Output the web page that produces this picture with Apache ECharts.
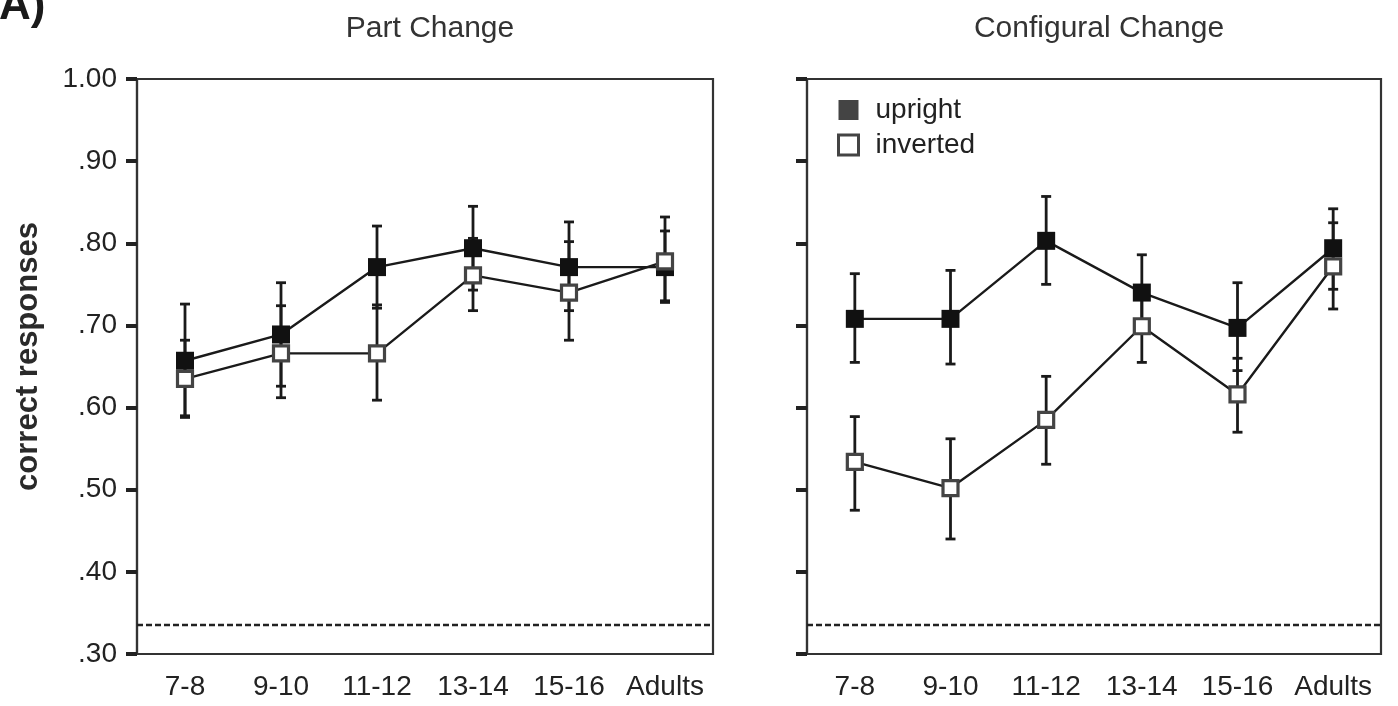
<!DOCTYPE html>
<html><head><meta charset="utf-8">
<script src="https://cdn.jsdelivr.net/npm/echarts@6/dist/echarts.min.js"></script>
<style>html,body{margin:0;padding:0;background:#fff}#c{width:1398px;height:706px}</style>
</head><body><div id="c"></div>
<script>
const categories = ['7-8','9-10','11-12','13-14','15-16','Adults'];
const panelTitles = ['Part Change','Configural Change'];
const legendNames = ['upright','inverted'];
const yAxisName = 'correct responses';
const panelLabel = 'A)';

const partUpright      = [0.657,0.689,0.771,0.794,0.771,0.771];
const partUprightLow   = [0.590,0.626,0.721,0.743,0.718,0.730];
const partUprightHigh  = [0.726,0.752,0.821,0.845,0.826,0.815];
const partInverted     = [0.635,0.666,0.666,0.761,0.740,0.778];
const partInvertedLow  = [0.588,0.612,0.609,0.718,0.682,0.728];
const partInvertedHigh = [0.682,0.724,0.725,0.806,0.802,0.832];

const configUpright      = [0.708,0.708,0.803,0.740,0.697,0.794];
const configUprightLow   = [0.655,0.653,0.750,0.694,0.645,0.744];
const configUprightHigh  = [0.763,0.767,0.857,0.786,0.752,0.842];
const configInverted     = [0.534,0.502,0.585,0.699,0.616,0.772];
const configInvertedLow  = [0.475,0.440,0.531,0.655,0.570,0.720];
const configInvertedHigh = [0.589,0.562,0.638,0.743,0.660,0.825];

const chanceLevel = 0.336;
const yMin = 0.3, yMax = 1.0, yStep = 0.1;

const FONT = '"Liberation Sans", Arial, sans-serif';
const INK = '#1a1a1a';

function errorBars(name, low, high, idx) {
  return {
    type: 'custom', name: name, xAxisIndex: idx, yAxisIndex: idx, z: 2,
    silent: true, animation: false,
    data: categories.map((c, i) => [i, low[i], high[i]]),
    encode: { x: 0, y: [1, 2] },
    renderItem: function (params, api) {
      const x = api.value(0);
      const lo = api.coord([x, api.value(1)]);
      const hi = api.coord([x, api.value(2)]);
      const w = 5;
      const st = { stroke: INK, lineWidth: 2.8, fill: null };
      return { type: 'group', children: [
        { type: 'line', shape: { x1: lo[0], y1: lo[1], x2: hi[0], y2: hi[1] }, style: st },
        { type: 'line', shape: { x1: lo[0] - w, y1: lo[1], x2: lo[0] + w, y2: lo[1] }, style: st },
        { type: 'line', shape: { x1: hi[0] - w, y1: hi[1], x2: hi[0] + w, y2: hi[1] }, style: st }
      ]};
    }
  };
}

function lineSeries(name, data, idx, filled, withChance) {
  const s = {
    type: 'line', name: name, xAxisIndex: idx, yAxisIndex: idx,
    data: data, symbol: 'rect', symbolSize: filled ? 18 : 15,
    z: filled ? 3 : 4, animation: false,
    lineStyle: { color: INK, width: 2.4 },
    itemStyle: filled ? { color: '#111', borderColor: '#111', borderWidth: 0 }
                      : { color: '#fff', borderColor: '#444', borderWidth: 3.2 },
    emphasis: { disabled: true }
  };
  if (withChance) {
    s.markLine = {
      silent: true, symbol: 'none', animation: false, precision: 3,
      label: { show: false },
      lineStyle: { type: [6, 3], color: '#222', width: 2.4 },
      data: [{ yAxis: chanceLevel }]
    };
  }
  return s;
}

function makeX(idx) {
  return {
    type: 'category', gridIndex: idx, data: categories, boundaryGap: true,
    axisLine: { lineStyle: { color: '#333', width: 2.2 } },
    axisTick: { alignWithLabel: true, length: 10, lineStyle: { color: '#222', width: 4 } },
    axisLabel: { interval: 0, fontFamily: FONT, fontSize: 28, color: '#222', margin: 19 },
    splitLine: { show: false }
  };
}
function makeY(idx, showLabels) {
  const y = {
    type: 'value', gridIndex: idx, min: yMin, max: yMax, interval: yStep,
    axisLine: { show: true, lineStyle: { color: '#333', width: 2.2 } },
    axisTick: { show: true, length: 11, lineStyle: { color: '#222', width: 4 } },
    axisLabel: {
      show: showLabels, fontFamily: FONT, fontSize: 28, color: '#222', margin: 20,
      formatter: v => v >= 0.999 ? '1.00' : v.toFixed(2).replace(/^0/, '')
    },
    splitLine: { show: false }
  };
  if (showLabels) {
    y.name = yAxisName;
    y.nameLocation = 'middle';
    y.nameGap = 93;
    y.nameTextStyle = { fontFamily: FONT, fontSize: 31, fontWeight: 'bold', color: '#2a2a2a', padding: [0, 0, 0, 20] };
  }
  return y;
}

const chart = echarts.init(document.getElementById('c'));
chart.setOption({
  backgroundColor: '#fff',
  animation: false,
  title: [
    { text: panelTitles[0], left: 425, top: 9, textAlign: 'center',
      textStyle: { fontFamily: FONT, fontSize: 30, fontWeight: 'normal', color: '#333' } },
    { text: panelTitles[1], left: 1094, top: 9, textAlign: 'center',
      textStyle: { fontFamily: FONT, fontSize: 30, fontWeight: 'normal', color: '#333' } }
  ],
  graphic: [
    { type: 'text', left: -1, top: -15, style: { text: panelLabel, font: 'bold 44px ' + FONT, fill: '#1a1a1a' } }
  ],
  legend: {
    orient: 'vertical', left: 832, top: 91, itemWidth: 20, itemHeight: 20, itemGap: 7,
    icon: 'rect', selectedMode: false,
    textStyle: { fontFamily: FONT, fontSize: 28, color: '#222', padding: [0, 0, 0, 12] },
    data: [
      { name: legendNames[0], itemStyle: { color: '#444', borderWidth: 0 } },
      { name: legendNames[1], itemStyle: { color: '#fff', borderColor: '#444', borderWidth: 3 } }
    ]
  },
  grid: [
    { left: 137, right: 685, top: 79, bottom: 52, show: true, borderColor: '#333', borderWidth: 2.2 },
    { left: 807, right: 17, top: 79, bottom: 52, show: true, borderColor: '#333', borderWidth: 2.2 }
  ],
  xAxis: [makeX(0), makeX(1)],
  yAxis: [makeY(0, true), makeY(1, false)],
  series: [
    errorBars('part upright error', partUprightLow, partUprightHigh, 0),
    errorBars('part inverted error', partInvertedLow, partInvertedHigh, 0),
    lineSeries(legendNames[0], partUpright, 0, true, true),
    lineSeries(legendNames[1], partInverted, 0, false, false),
    errorBars('config upright error', configUprightLow, configUprightHigh, 1),
    errorBars('config inverted error', configInvertedLow, configInvertedHigh, 1),
    lineSeries(legendNames[0], configUpright, 1, true, true),
    lineSeries(legendNames[1], configInverted, 1, false, false)
  ]
});
</script>
</body></html>
